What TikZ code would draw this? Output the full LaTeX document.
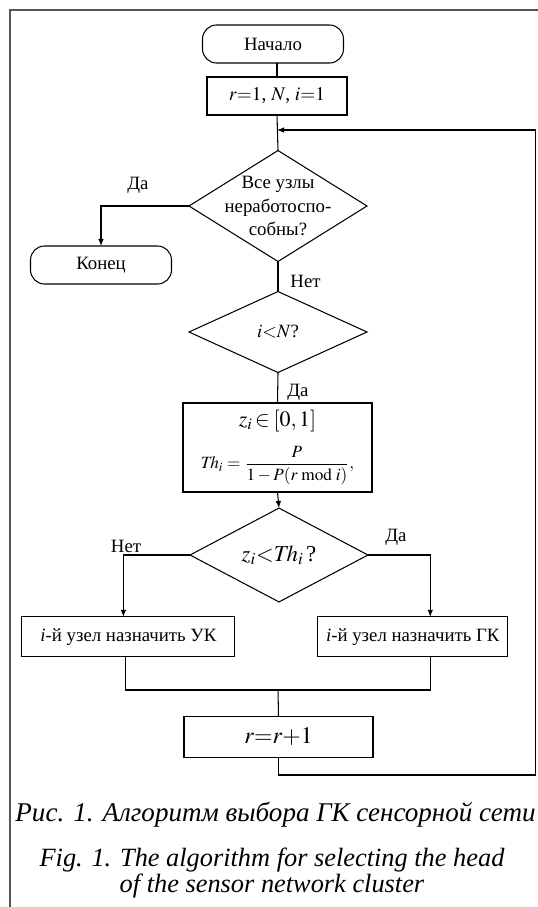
\documentclass[tikz,border=0pt]{standalone}
\usepackage{amsmath}
\usepackage{mathptmx}
\usepackage{fontspec}
\setmainfont{Liberation Serif}
\usetikzlibrary{shapes.geometric,arrows.meta}
\definecolor{framegray}{HTML}{555555}

\tikzset{
  terminal/.style={draw,rectangle,rounded corners=0.28cm,minimum width=2.82cm,minimum height=0.76cm,inner sep=0pt,outer sep=0pt},
  process/.style={draw,rectangle,inner sep=0pt,outer sep=0pt,align=center},
  decision/.style={draw,diamond,inner sep=0pt,outer sep=0pt,align=center},
  arr/.style={-{Latex[length=4pt,width=3.2pt]}},
  caption/.style={font=\fontsize{15}{14.3}\selectfont\itshape,align=center}
}

\begin{document}
\begin{tikzpicture}[x=0.02cm,y=-0.02cm,line width=0.6pt,every node/.style={font=\fontsize{10.7}{13.4}\selectfont}]
    \useasboundingbox (0,0) rectangle (538,907);
    \draw[framegray,line width=1.1pt] (9.6,907) -- (9.6,9.6) -- (538,9.6);

    % blocks
    \node[terminal] (start) at (273,44) {Начало};
    \node[process,minimum width=2.8cm,minimum height=0.76cm,font=\fontsize{11}{13}\selectfont] (init) at (277,96) {$r{=}1$, $N$, $i{=}1$};
    \node[decision,minimum width=3.56cm,minimum height=2.22cm,label={[align=center]center:Все узлы\\неработоспо-\\собны?}] (allfail) at (278,206) {};
    \node[terminal] (stop) at (101,265) {Конец};
    \node[decision,minimum width=3.56cm,minimum height=1.62cm] (check) at (278,332) {$i{<}N$?};
    \node[process,minimum width=3.78cm,minimum height=1.78cm] (calc) at (277.5,447.5)
      {{\fontsize{12.5}{14}\selectfont$z_i\!\in$\,$[0,1]$}\\[7pt]
       {\fontsize{9.8}{11}\selectfont$\mathit{Th}_i=\displaystyle\frac{P}{1-P(r\;\mathrm{mod}\;i)},$}};
    \node[decision,minimum width=3.56cm,minimum height=1.8cm,font=\fontsize{13}{15}\selectfont] (cond) at (279,555) {$z_i{<}\mathit{Th}_i\,$?};
    \node[process,minimum width=4.26cm,minimum height=0.8cm] (uk) at (128.4,636.8) {\textit{i}-й узел назначить УК};
    \node[process,minimum width=3.8cm,minimum height=0.8cm] (gk) at (412.8,636.8) {\textit{i}-й узел назначить ГК};
    \node[process,minimum width=3.78cm,minimum height=0.81cm,font=\fontsize{13.5}{15}\selectfont] (inc) at (278.5,737) {$r{=}r{+}1$};

    % branch labels
    \node (yes1) at (138,185) {Да};
    \node (no1) at (305.5,281) {Нет};
    \node (yes2) at (298,392) {Да};
    \node (no3) at (126,546) {Нет};
    \node (yes3) at (396,537) {Да};

    % helper points
    \coordinate (loopin) at (277,130);
    \coordinate (loopbot) at (535.6,775);
    \coordinate (join) at (278,690);
    \coordinate (ukin) at ([xshift=-0.1cm]uk.north);
    \coordinate (ukout) at ([xshift=-0.05cm]uk.south);
    \coordinate (gkin) at ([xshift=0.35cm]gk.north);
    \coordinate (gkout) at ([xshift=0.35cm]gk.south);

    % connectors
    \draw (init.north |- start.south) -- (init.north);
    \draw (init.south) -- (allfail.north);
    \draw[arr] (allfail.west) -| (stop.north);
    \draw (allfail.south) -- (check.north);
    \draw (check.south) -- (calc.north);
    \draw[arr] (calc.south) -- (cond.north);
    \draw[arr] (cond.west) -| (ukin);
    \draw[arr] (cond.east) -| (gkin);
    \draw (ukout) |- (join) -| (gkout);
    \draw (join) -- (inc.north);
    \draw[arr] (inc.south) |- (loopbot) |- (loopin);

    % caption
    \node[caption,font=\fontsize{15.4}{14.3}\selectfont\itshape] (capru) at (275.5,815) {Рис. 1. Алгоритм выбора ГК сенсорной сети};
    \node[caption] (capen) at (272,873) {Fig. 1. The algorithm for selecting the head\\of the sensor network cluster};
\end{tikzpicture}
\end{document}
